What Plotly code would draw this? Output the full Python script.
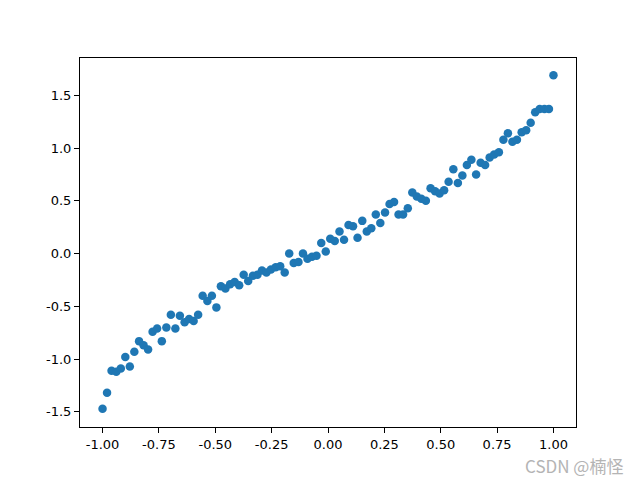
import plotly.graph_objects as go

x_vals = [-1.000, -0.980, -0.960, -0.939, -0.919, -0.899, -0.879, -0.859, -0.838, -0.818,
          -0.798, -0.778, -0.758, -0.737, -0.717, -0.697, -0.677, -0.657, -0.636, -0.616,
          -0.596, -0.576, -0.556, -0.535, -0.515, -0.495, -0.475, -0.455, -0.434, -0.414,
          -0.394, -0.374, -0.354, -0.333, -0.313, -0.293, -0.273, -0.253, -0.232, -0.212,
          -0.192, -0.172, -0.152, -0.131, -0.111, -0.091, -0.071, -0.051, -0.030, -0.010,
          0.010, 0.030, 0.051, 0.071, 0.091, 0.111, 0.131, 0.152, 0.172, 0.192,
          0.212, 0.232, 0.253, 0.273, 0.293, 0.313, 0.333, 0.354, 0.374, 0.394,
          0.414, 0.434, 0.455, 0.475, 0.495, 0.515, 0.535, 0.556, 0.576, 0.596,
          0.616, 0.636, 0.657, 0.677, 0.697, 0.717, 0.737, 0.758, 0.778, 0.798,
          0.818, 0.838, 0.859, 0.879, 0.899, 0.919, 0.939, 0.960, 0.980, 1.000]

y_vals = [-1.47, -1.32, -1.11, -1.12, -1.09, -0.98, -1.07, -0.93, -0.83, -0.87,
          -0.91, -0.74, -0.71, -0.83, -0.70, -0.58, -0.71, -0.59, -0.65, -0.62,
          -0.64, -0.58, -0.40, -0.45, -0.40, -0.51, -0.31, -0.33, -0.29, -0.27,
          -0.30, -0.20, -0.26, -0.21, -0.20, -0.16, -0.18, -0.15, -0.13, -0.12,
          -0.18, 0.00, -0.09, -0.08, 0.00, -0.05, -0.03, -0.02, 0.10, 0.02,
          0.14, 0.12, 0.21, 0.13, 0.27, 0.26, 0.15, 0.31, 0.21, 0.24,
          0.37, 0.29, 0.39, 0.47, 0.49, 0.37, 0.37, 0.43, 0.58, 0.54,
          0.52, 0.50, 0.62, 0.59, 0.57, 0.60, 0.68, 0.80, 0.67, 0.74,
          0.84, 0.89, 0.75, 0.86, 0.84, 0.91, 0.94, 0.96, 1.08, 1.14,
          1.06, 1.08, 1.15, 1.17, 1.24, 1.34, 1.37, 1.37, 1.37, 1.69]

x_ticks = [-1.0, -0.75, -0.5, -0.25, 0.0, 0.25, 0.5, 0.75, 1.0]
y_ticks = [-1.5, -1.0, -0.5, 0.0, 0.5, 1.0, 1.5]

fig = go.Figure(go.Scatter(
    x=x_vals, y=y_vals, mode="markers",
    marker=dict(color="#1f77b4", size=8.5, line=dict(width=0)),
))

axis_common = dict(
    showgrid=False, zeroline=False, showline=True, linecolor="black", linewidth=1,
    mirror=True, ticks="outside", ticklen=5, tickwidth=1, tickcolor="black",
    tickfont=dict(family="DejaVu Sans", size=13, color="black"),
    automargin=False,
)

fig.update_xaxes(range=[-1.1, 1.1], tickvals=x_ticks,
                 ticktext=[f"{v:.2f}" for v in x_ticks], **axis_common)
fig.update_yaxes(range=[-1.644, 1.854], tickvals=y_ticks,
                 ticktext=[f"{v:.1f}" for v in y_ticks], **axis_common)

fig.add_annotation(
    text="CSDN @楠怪", xref="paper", yref="paper", x=1.099, y=-0.066,
    xanchor="right", yanchor="top", showarrow=False,
    font=dict(family="Noto Sans CJK SC", size=17, color="#b4b4b4"),
)

fig.update_layout(
    width=640, height=480,
    margin=dict(l=80, r=64, t=58, b=53, autoexpand=False),
    paper_bgcolor="white", plot_bgcolor="white",
    showlegend=False,
)

fig.write_html("out.html", config={"displayModeBar": False},
               post_script="document.body.style.margin='0';document.body.style.overflow='hidden';")
